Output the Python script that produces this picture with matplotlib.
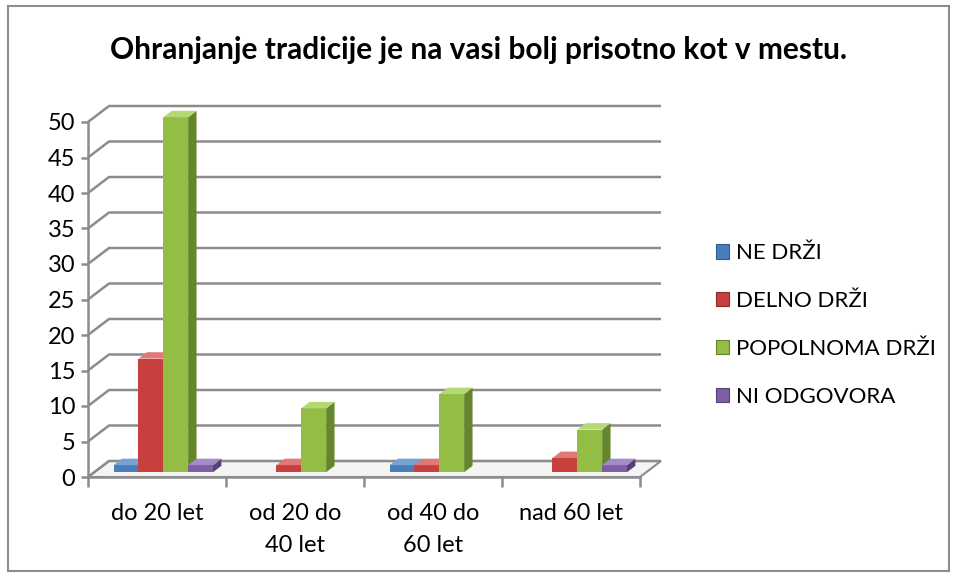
import matplotlib.pyplot as plt
from matplotlib.patches import Polygon, Rectangle, Patch

# data
categories = ['do 20 let', 'od 20 do\n40 let', 'od 40 do\n60 let', 'nad 60 let']
series = ['NE DRŽI', 'DELNO DRŽI', 'POPOLNOMA DRŽI', 'NI ODGOVORA']
ne_drzi = [1, 0, 1, 0]
delno_drzi = [16, 1, 1, 2]
popolnoma_drzi = [50, 9, 11, 6]
ni_odgovora = [1, 0, 0, 1]
y_ticks = list(range(0, 55, 5))

values = [ne_drzi, delno_drzi, popolnoma_drzi, ni_odgovora]
# front, side, top shades per series
colors = [('#4A7EBB', '#2F5E97', '#76A2D6'),
          ('#C8403D', '#8E2A28', '#E07A77'),
          ('#93BD45', '#66862C', '#B5D874'),
          ('#7E5FA6', '#573F7A', '#A48BC6')]
grid_col = '#8C8C8C'

plt.rcParams['font.family'] = ['Lato', 'DejaVu Sans']

W, H = 957, 576
fig = plt.figure(figsize=(W / 100, H / 100), dpi=100)

# outer chart frame
fig.patches.append(Rectangle((8 / W, 5 / H), 941 / W, 565 / H, transform=fig.transFigure,
                             fill=False, ec='#8C8C8C', lw=1.5))

x0, x1, ytop, ybot = 88, 640, 122, 477
ax = fig.add_axes([x0 / W, 1 - ybot / H, (x1 - x0) / W, (ybot - ytop) / H])
ax.set_xlim(0, len(categories))
ax.set_ylim(0, 50)
ax.patch.set_visible(False)

# depth of the 3d box in data units
DX = 21 * len(categories) / (x1 - x0)
DY = 16 * 50 / (ybot - ytop)

# floor
ax.add_patch(Polygon([(0, 0), (4, 0), (4 + DX, DY), (DX, DY)], closed=True,
                     fc='#F4F4F4', ec=grid_col, lw=1.5, clip_on=False, zorder=1))

# gridlines on side and back wall
for v in y_ticks:
    ax.plot([0, DX, 4 + DX], [v, v + DY, v + DY], color=grid_col, lw=1.8,
            clip_on=False, zorder=1, solid_capstyle='butt')

# bars
bw = 0.18
d0, dd = 0.3, 0.4
for i in range(len(categories)):
    start = i + 0.5 - 2 * bw
    for j, vals in enumerate(values):
        v = vals[i]
        if v == 0:
            continue
        front, side, top = colors[j]
        l = start + j * bw + d0 * DX
        r = l + bw
        b = d0 * DY
        t = v + d0 * DY
        ax.add_patch(Polygon([(l, b), (r, b), (r, t), (l, t)], closed=True,
                             fc=front, ec='none', clip_on=False, zorder=3))
        ax.add_patch(Polygon([(r, b), (r + dd * DX, b + dd * DY), (r + dd * DX, t + dd * DY), (r, t)],
                             closed=True, fc=side, ec='none', clip_on=False, zorder=3))
        ax.add_patch(Polygon([(l, t), (r, t), (r + dd * DX, t + dd * DY), (l + dd * DX, t + dd * DY)],
                             closed=True, fc=top, ec='none', clip_on=False, zorder=3))

for s in ['top', 'right']:
    ax.spines[s].set_visible(False)
for s in ['left', 'bottom']:
    ax.spines[s].set_color(grid_col)
    ax.spines[s].set_linewidth(1.8)
    ax.spines[s].set_zorder(4)

ax.set_yticks(y_ticks)
ax.tick_params(axis='y', direction='out', length=5, width=1.8, color=grid_col,
               labelsize=17, pad=4)
ax.set_xticks(range(len(categories) + 1))
ax.set_xticklabels([])
ax.tick_params(axis='x', which='major', direction='out', length=7, width=1.8, color=grid_col)
ax.set_xticks([i + 0.5 for i in range(len(categories))], minor=True)
ax.set_xticklabels(categories, minor=True, fontsize=17, linespacing=1.65)
ax.tick_params(axis='x', which='minor', length=0, pad=19)

fig.text(478 / W, 1 - 50 / H, 'Ohranjanje tradicije je na vasi bolj prisotno kot v mestu.',
         ha='center', va='center', fontsize=21.5, fontweight='bold')

handles = [Patch(fc=c[0], ec=c[1], lw=0.8) for c in colors]
fig.legend(handles, series, loc='center left', bbox_to_anchor=(696 / W, 1 - 325 / H),
           frameon=False, fontsize=16, handlelength=0.6, handleheight=0.6,
           handletextpad=0.3, labelspacing=1.25)

fig.savefig('out.png', dpi=100)
